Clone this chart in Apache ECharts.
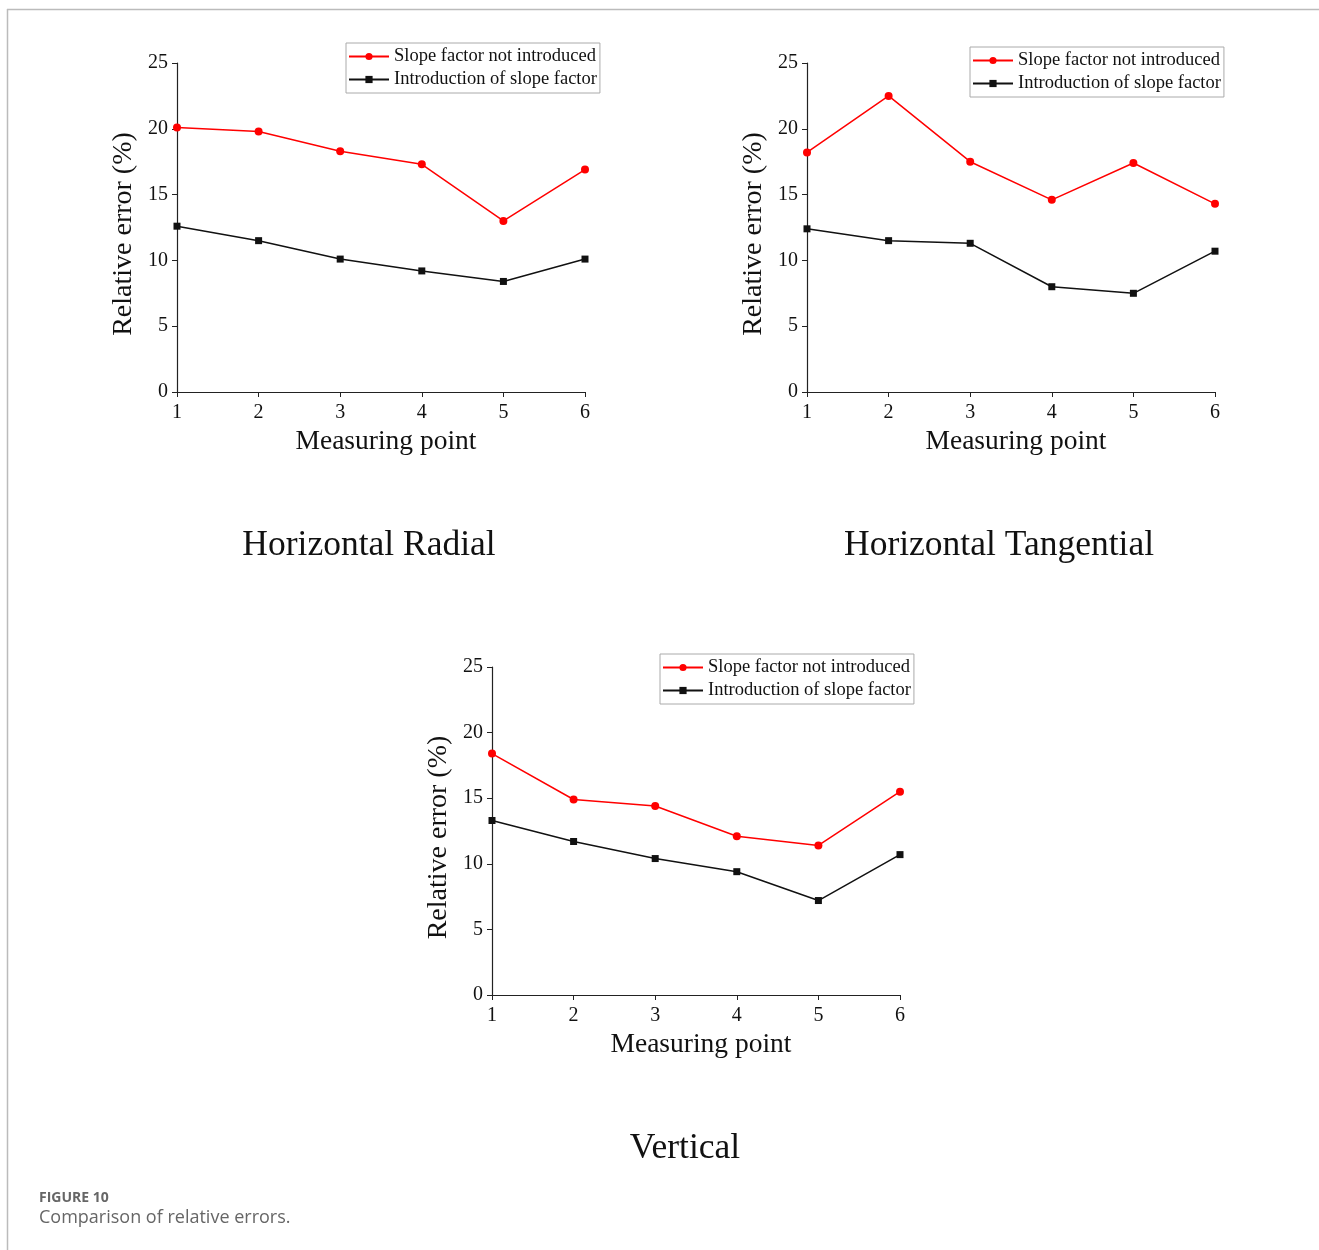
<!DOCTYPE html>
<html lang="en">
<head>
    <meta charset="UTF-8">
    <title>Comparison of relative errors</title>
    <script src="https://cdn.jsdelivr.net/npm/echarts@6/dist/echarts.min.js"></script>
    <style>
        body { margin: 0; background: #fff; }
    </style>
</head>
<body>
    <div id="main" style="width:1319px;height:1250px;"></div>
<script>
    // 数据
    var points = ['1', '2', '3', '4', '5', '6'];
    var yTicks = [0, 5, 10, 15, 20, 25];
    var seriesNames = ['Slope factor not introduced', 'Introduction of slope factor'];

    // Horizontal Radial
    var radialNoSlope = [20.1, 19.8, 18.3, 17.3, 13.0, 16.9];
    var radialSlope = [12.6, 11.5, 10.1, 9.2, 8.4, 10.1];
    // Horizontal Tangential
    var tangNoSlope = [18.2, 22.5, 17.5, 14.6, 17.4, 14.3];
    var tangSlope = [12.4, 11.5, 11.3, 8.0, 7.5, 10.7];
    // Vertical
    var vertNoSlope = [18.4, 14.9, 14.4, 12.1, 11.4, 15.5];
    var vertSlope = [13.3, 11.7, 10.4, 9.4, 7.2, 10.7];

    var panelTitles = ['Horizontal Radial', 'Horizontal Tangential', 'Vertical'];

    var serif = '"Liberation Serif", "Times New Roman", serif';
    var myChart = echarts.init(document.getElementById('main'));

    // 三个网格的位置
    var grids = [
        { left: 177, top: 63, width: 408, height: 329 },
        { left: 807, top: 63, width: 408, height: 329 },
        { left: 492, top: 667, width: 408, height: 328 }
    ];
    var legendPos = [
        { left: 346, top: 43 },
        { left: 970, top: 47 },
        { left: 660, top: 654 }
    ];
    var titlePos = [
        { left: 364, top: 523 },
        { left: 994, top: 523 },
        { left: 680, top: 1126 }
    ];
    var panelData = [
        [radialNoSlope, radialSlope],
        [tangNoSlope, tangSlope],
        [vertNoSlope, vertSlope]
    ];

    var xAxes = [], yAxes = [], series = [], legends = [], titles = [];
    grids.forEach(function (g, i) {
        xAxes.push({
            type: 'category', gridIndex: i, data: points, boundaryGap: false,
            name: 'Measuring point', nameLocation: 'middle', nameGap: 36,
            nameTextStyle: { fontFamily: serif, fontSize: 27.5, color: '#111', padding: [0, 0, 0, 10] },
            axisLine: { lineStyle: { color: '#222', width: 1.2 } },
            axisTick: { show: true, length: 5, lineStyle: { color: '#222' } },
            axisLabel: { fontFamily: serif, fontSize: 20, color: '#111', margin: 11 },
            splitLine: { show: false }
        });
        yAxes.push({
            type: 'value', gridIndex: i, min: yTicks[0], max: yTicks[yTicks.length - 1], interval: 5,
            name: 'Relative error (%)', nameLocation: 'middle', nameGap: 39, nameRotate: 90,
            nameTextStyle: { fontFamily: serif, fontSize: 28, color: '#111', padding: [0, 13, 0, 0] },
            axisLine: { show: true, lineStyle: { color: '#222', width: 1.2 } },
            axisTick: { show: true, length: 5, lineStyle: { color: '#222' } },
            axisLabel: { fontFamily: serif, fontSize: 20, color: '#111', margin: 9 },
            splitLine: { show: false }
        });
        series.push({
            name: seriesNames[0], type: 'line', xAxisIndex: i, yAxisIndex: i,
            data: panelData[i][0], symbol: 'circle', symbolSize: 8,
            itemStyle: { color: '#ff0000' }, lineStyle: { color: '#ff0000', width: 1.5 }
        });
        series.push({
            name: seriesNames[1], type: 'line', xAxisIndex: i, yAxisIndex: i,
            data: panelData[i][1], symbol: 'rect', symbolSize: 7,
            itemStyle: { color: '#111' }, lineStyle: { color: '#111', width: 1.5 }
        });
        legends.push({
            data: seriesNames, orient: 'vertical', left: legendPos[i].left, top: legendPos[i].top,
            itemWidth: 40, itemHeight: 9, itemGap: 4, padding: [4, 3, 4, 2],
            borderColor: '#aaa', borderWidth: 1, backgroundColor: '#fff',
            textStyle: { fontFamily: serif, fontSize: 18.5, color: '#111' }
        });
        titles.push({
            text: panelTitles[i], left: titlePos[i].left, top: titlePos[i].top, textAlign: 'center',
            textStyle: { fontFamily: serif, fontSize: 35.5, fontWeight: 'normal', color: '#111' }
        });
    });

    var option = {
        backgroundColor: '#fff',
        animation: false,
        title: titles,
        legend: legends,
        grid: grids,
        xAxis: xAxes,
        yAxis: yAxes,
        series: series,
        graphic: [
            // 外框
            { type: 'line', shape: { x1: 7, y1: 9.5, x2: 1319, y2: 9.5 }, style: { stroke: '#bbb', lineWidth: 1.5 } },
            { type: 'line', shape: { x1: 7.5, y1: 9, x2: 7.5, y2: 1250 }, style: { stroke: '#bbb', lineWidth: 1.5 } },
            { type: 'text', left: 39, top: 1191, style: { text: 'FIGURE 10', font: 'bold 14px "Open Sans", sans-serif', fill: '#666' } },
            { type: 'text', left: 39, top: 1209, style: { text: 'Comparison of relative errors.', font: '18px "Open Sans", sans-serif', fill: '#666' } }
        ]
    };
    myChart.setOption(option);
</script>
</body>
</html>
